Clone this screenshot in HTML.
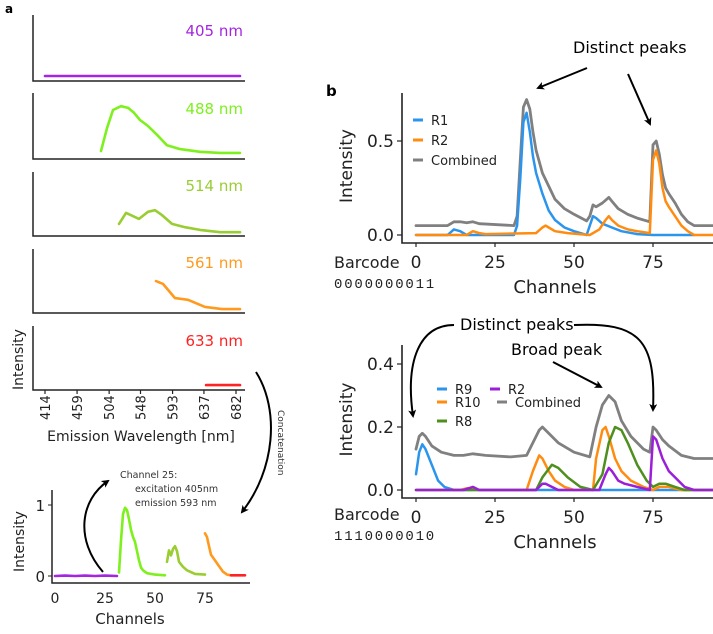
<!DOCTYPE html>
<html><head><meta charset="utf-8">
<style>
html,body{margin:0;padding:0;background:#fff;}
svg{display:block;font-family:"DejaVu Sans","Liberation Sans",sans-serif;}
</style></head>
<body>
<svg id="fig" width="713" height="634" viewBox="0 0 713 634">
<defs>
<marker id="ah" markerWidth="8" markerHeight="8" refX="6" refY="4" orient="auto" markerUnits="userSpaceOnUse">
<path d="M0,0 L8,4 L0,8 L2,4 z" fill="#000"/>
</marker>
</defs>
<g id="pa"></g>
<g id="pi"></g>
<g id="pb1"></g>
<g id="pb2"></g>
<g id="ann">
<text x="5" y="13" font-size="12" font-weight="bold">a</text>
<text x="326" y="96" font-size="15" font-weight="bold">b</text>
<text x="573" y="53" font-size="16">Distinct peaks</text>
<line x1="587" y1="68" x2="538" y2="88" stroke="#000" stroke-width="2" marker-end="url(#ah)"/>
<line x1="628" y1="74" x2="650" y2="124" stroke="#000" stroke-width="2" marker-end="url(#ah)"/>
<text x="460" y="330" font-size="16">Distinct peaks</text>
<path d="M454,325 C420,325 405,360 413,416" fill="none" stroke="#000" stroke-width="2" marker-end="url(#ah)"/>
<path d="M574,325 C640,322 656,340 653,410" fill="none" stroke="#000" stroke-width="2" marker-end="url(#ah)"/>
<text x="511" y="355" font-size="16">Broad peak</text>
<line x1="553" y1="362" x2="601" y2="387" stroke="#000" stroke-width="2" marker-end="url(#ah)"/>
<path d="M256,372 C280,410 275,470 242,512" fill="none" stroke="#000" stroke-width="2" marker-end="url(#ah)"/>
<text transform="translate(278,410) rotate(90)" font-size="9" fill="#333">Concatenation</text>
<text x="120" y="478" font-size="9.5" fill="#333">Channel 25:</text>
<text x="135" y="492" font-size="9.5" fill="#333">excitation 405nm</text>
<text x="135" y="506" font-size="9.5" fill="#333">emission 593 nm</text>
<path d="M103,572 C75,540 80,500 108,481" fill="none" stroke="#000" stroke-width="2" marker-end="url(#ah)"/>
</g>
</svg>
<script>
// ---------- Panel a data (wavelength nm, normalized intensity) ----------
const wlTicks = [414, 459, 504, 548, 593, 637, 682];
const lasers = ["405 nm", "488 nm", "514 nm", "561 nm", "633 nm"];
const wl405 = [414, 687.6];
const in405 = [0.09, 0.09];
const wl488 = [492.6, 501, 509.4, 520.6, 530.5, 538.9, 547.3, 558.5, 571.1, 585.2, 603.4, 631.5, 659.5, 687.6];
const in488 = [0.145, 0.56, 0.89, 0.96, 0.93, 0.84, 0.71, 0.6, 0.44, 0.25, 0.18, 0.13, 0.11, 0.11];
const wl514 = [517.8, 527.7, 545.9, 558.5, 568.3, 578.2, 592.2, 610.4, 631.5, 659.5, 687.6];
const in514 = [0.22, 0.42, 0.31, 0.44, 0.47, 0.38, 0.22, 0.16, 0.11, 0.07, 0.07];
const wl561 = [569.7, 579.6, 596.4, 614.6, 638.5, 662.4, 687.6];
const in561 = [0.58, 0.53, 0.27, 0.24, 0.11, 0.07, 0.07];
const wl633 = [640, 687.6];
const in633 = [0.09, 0.09];

// ---------- Inset data (channels) ----------
const insetTicks = [0, 25, 50, 75];
const chPurple = [0, 5, 10, 15, 20, 25, 31];
const vPurple = [0.0, 0.005, 0.0, 0.005, 0.0, 0.005, 0.0];
const chGreen = [32, 33, 34, 35, 36, 37, 38, 39, 40, 41, 42, 43, 44, 46, 50, 55];
const vGreen = [0.05, 0.5, 0.87, 0.96, 0.93, 0.8, 0.65, 0.55, 0.48, 0.35, 0.22, 0.12, 0.08, 0.04, 0.02, 0.01];
const chLGreen = [56, 57, 58, 59, 60, 61, 62, 64, 66, 70, 75];
const vLGreen = [0.2, 0.36, 0.29, 0.38, 0.42, 0.35, 0.2, 0.13, 0.08, 0.03, 0.02];
const chOrange = [75, 76, 77, 78, 79, 80, 82, 84, 86, 88];
const vOrange = [0.6, 0.55, 0.42, 0.3, 0.26, 0.22, 0.14, 0.06, 0.02, 0.01];
const chRed = [88, 95];
const vRed = [0.01, 0.01];

// ---------- Panel b top ----------
const bTicksX = [0, 25, 50, 75];
const bTopTicksY = [0.0, 0.5];
const chR1 = [0, 10, 12, 14, 16, 31, 32, 33, 34, 35, 36, 37, 38, 40, 42, 44, 47, 50, 54, 55, 56, 57, 59, 62, 65, 70, 75, 88];
const vR1 = [0, 0, 0.03, 0.02, 0, 0, 0.05, 0.3, 0.6, 0.65, 0.55, 0.42, 0.33, 0.22, 0.13, 0.08, 0.04, 0.02, 0, 0.05, 0.1, 0.09, 0.06, 0.04, 0.02, 0.005, 0, 0];
const chR2 = [0, 16, 18, 20, 22, 38, 40, 41, 42, 44, 48, 55, 58, 60, 61, 62, 64, 67, 70, 74, 75, 76, 77, 78, 79, 80, 82, 84, 86, 88, 95];
const vR2 = [0, 0, 0.02, 0.01, 0.005, 0.01, 0.04, 0.05, 0.04, 0.02, 0.01, 0, 0.03, 0.08, 0.1, 0.08, 0.05, 0.03, 0.02, 0.01, 0.4, 0.45, 0.38, 0.25, 0.18, 0.15, 0.1, 0.05, 0.02, 0, 0];
const chC1 = [0, 10, 12, 14, 16, 18, 20, 31, 32, 33, 34, 35, 36, 37, 38, 40, 42, 44, 47, 50, 54, 55, 56, 57, 59, 61, 62, 64, 67, 70, 74, 75, 76, 77, 78, 79, 80, 82, 84, 86, 88, 95];
const vC1 = [0.05, 0.05, 0.07, 0.07, 0.065, 0.07, 0.06, 0.05, 0.1, 0.4, 0.68, 0.72, 0.67, 0.55, 0.45, 0.33, 0.26, 0.19, 0.14, 0.11, 0.075, 0.1, 0.16, 0.15, 0.17, 0.2, 0.18, 0.14, 0.11, 0.09, 0.07, 0.48, 0.5, 0.43, 0.32, 0.25, 0.22, 0.17, 0.11, 0.07, 0.05, 0.05];

// ---------- Panel b bottom ----------
const bBotTicksY = [0.0, 0.2, 0.4];
const chC2 = [0, 1, 2, 3, 5, 8, 12, 15, 18, 22, 30, 35, 37, 39, 40, 42, 45, 50, 55, 57, 59, 61, 63, 65, 68, 72, 74, 75, 76, 78, 80, 84, 88, 95];
const vC2 = [0.13, 0.17, 0.18, 0.17, 0.14, 0.12, 0.11, 0.11, 0.115, 0.11, 0.105, 0.11, 0.15, 0.19, 0.2, 0.18, 0.15, 0.12, 0.105, 0.2, 0.27, 0.3, 0.28, 0.22, 0.17, 0.13, 0.12, 0.2, 0.19, 0.16, 0.14, 0.11, 0.1, 0.1];
const chR9 = [0, 1, 2, 3, 5, 7, 9, 12, 95];
const vR9 = [0.05, 0.12, 0.145, 0.13, 0.08, 0.03, 0.01, 0, 0];
const chR10 = [0, 14, 16, 18, 20, 35, 37, 39, 40, 42, 44, 47, 50, 56, 57, 59, 60, 61, 63, 65, 68, 72, 75, 77, 80, 84, 95];
const vR10 = [0, 0, 0.005, 0.005, 0, 0, 0.06, 0.11, 0.1, 0.06, 0.03, 0.01, 0, 0, 0.1, 0.19, 0.2, 0.17, 0.1, 0.06, 0.03, 0.01, 0, 0.01, 0.01, 0, 0];
const chR8 = [0, 38, 40, 43, 45, 48, 52, 56, 59, 61, 63, 65, 67, 70, 73, 75, 77, 79, 82, 85, 95];
const vR8 = [0, 0, 0.04, 0.08, 0.07, 0.04, 0.01, 0, 0.05, 0.15, 0.2, 0.19, 0.15, 0.08, 0.03, 0.01, 0.02, 0.02, 0.01, 0, 0];
const chR2b = [0, 15, 18, 20, 38, 40, 41, 43, 45, 58, 60, 61, 62, 64, 66, 70, 74, 75, 76, 78, 80, 82, 85, 88, 95];
const vR2b = [0, 0, 0.01, 0, 0, 0.02, 0.02, 0.01, 0, 0, 0.05, 0.07, 0.06, 0.03, 0.02, 0.01, 0, 0.17, 0.16, 0.1, 0.06, 0.04, 0.01, 0, 0];

const NS = "http://www.w3.org/2000/svg";
function mk(parent, tag, attrs, text) {
  const e = document.createElementNS(NS, tag);
  for (const k in attrs) e.setAttribute(k, attrs[k]);
  if (text !== undefined) e.textContent = text;
  parent.appendChild(e);
  return e;
}
function lineEl(parent, xs, ys, sx, sy, color, w, name) {
  const d = xs.map((x, i) => (i ? "L" : "M") + sx(x).toFixed(1) + "," + sy(ys[i]).toFixed(1)).join(" ");
  const p = mk(parent, "path", {d: d, fill: "none", stroke: color, "stroke-width": w, "stroke-linejoin": "round", "stroke-linecap": "round"});
  
  
  return p;
}

// ---------- Draw panel a ----------
const pa = document.getElementById("pa");
const wx = w => 45 + (w - 414) * 0.7127;
const bottoms = [81, 159, 236, 313, 390];
const tops = [15, 93, 172, 249, 326];
const laserColors = ["#a526e0", "#7ef01e", "#9acd32", "#ff9a1f", "#ff2222"];
const labelY = [36, 114, 191, 268, 346];
const wls = [wl405, wl488, wl514, wl561, wl633];
const ins = [in405, in488, in514, in561, in633];
for (let i = 0; i < 5; i++) {
  const b = bottoms[i];
  const ax = mk(pa, "path", {d: `M33,${tops[i]} L33,${b} L245,${b}`, fill: "none", stroke: "#222", "stroke-width": 1.5});
  
  
  const t = mk(pa, "text", {x: 243, y: labelY[i], "font-size": 15, fill: laserColors[i], "text-anchor": "end"}, lasers[i]);
  
  
  const sy = v => b - v * 55;
  lineEl(pa, wls[i], ins[i], wx, sy, laserColors[i], 2.6, 'spectrum-' + lasers[i].replace(' ', ''));
}
wlTicks.forEach(w => {
  const tk = mk(pa, "line", {x1: wx(w), y1: 390, x2: wx(w), y2: 394, stroke: "#222", "stroke-width": 1.2});
  
  
  const tl = mk(pa, "text", {transform: `translate(${wx(w) + 5},${420}) rotate(-90)`, "font-size": 13, fill: "#222"}, String(w));
  
  
});
{
  const t = mk(pa, "text", {x: 141, y: 441, "font-size": 14, "text-anchor": "middle", fill: "#222"}, "Emission Wavelength [nm]");
  
  
  const t2 = mk(pa, "text", {transform: "translate(23,390) rotate(-90)", "font-size": 14, fill: "#222"}, "Intensity");
  
  
}

// ---------- Draw inset ----------
const pi = document.getElementById("pi");
const ix = c => 55 + c * 2;
const iy = v => 576 - v * 71;
{
  const ax = mk(pi, "path", {d: "M52,490 L52,583 L250,583", fill: "none", stroke: "#222", "stroke-width": 1.5});
  
  
  [0, 1].forEach(v => {
    const tl = mk(pi, "text", {x: 45, y: iy(v) + 6, "font-size": 15, "text-anchor": "end", fill: "#222"}, String(v));
    
    
    const tk = mk(pi, "line", {x1: 48, y1: iy(v), x2: 52, y2: iy(v), stroke: "#222"});
    
    
  });
  insetTicks.forEach(c => {
    const tl = mk(pi, "text", {x: ix(c), y: 603, "font-size": 14, "text-anchor": "middle", fill: "#222"}, String(c));
    
    
  });
  const t = mk(pi, "text", {x: 130, y: 624, "font-size": 15, "text-anchor": "middle", fill: "#222"}, "Channels");
  
  
  const t2 = mk(pi, "text", {transform: "translate(24,572) rotate(-90)", "font-size": 14, fill: "#222"}, "Intensity");
  
  
  lineEl(pi, chPurple, vPurple, ix, iy, laserColors[0], 2.6, 'inset-405');
  lineEl(pi, chGreen, vGreen, ix, iy, laserColors[1], 2.6, 'inset-488');
  lineEl(pi, chLGreen, vLGreen, ix, iy, laserColors[2], 2.6, 'inset-514');
  lineEl(pi, chOrange, vOrange, ix, iy, laserColors[3], 2.6, 'inset-561');
  lineEl(pi, chRed, vRed, ix, iy, laserColors[4], 2.6, 'inset-633');
}

// ---------- Panel b axes helper ----------
const bx = c => 416 + c * 3.16;
function bAxes(g, top, axisY, y0, pxPerUnit, ticksY, prefix, barcode, barY, codeY, chY) {
  const sy = v => y0 - v * pxPerUnit;
  const ax = mk(g, "path", {d: `M402,${top} L402,${axisY} L713,${axisY}`, fill: "none", stroke: "#222", "stroke-width": 1.6});
  
  
  ticksY.forEach(v => {
    const tk = mk(g, "line", {x1: 397, y1: sy(v), x2: 402, y2: sy(v), stroke: "#222", "stroke-width": 1.2});
    
    
    const tl = mk(g, "text", {x: 394, y: sy(v) + 6, "font-size": 17, "text-anchor": "end", fill: "#222"}, v.toFixed(1));
    
    
  });
  bTicksX.forEach(c => {
    const tk = mk(g, "line", {x1: bx(c), y1: axisY, x2: bx(c), y2: axisY + 4, stroke: "#222", "stroke-width": 1.2});
    
    
    const tl = mk(g, "text", {x: bx(c), y: axisY + 25, "font-size": 17, "text-anchor": "middle", fill: "#222"}, String(c));
    
    
  });
  const t = mk(g, "text", {x: 555, y: chY, "font-size": 18, "text-anchor": "middle", fill: "#222"}, "Channels");
  
  
  const t2 = mk(g, "text", {transform: `translate(352,${(top + axisY) / 2 + 35}) rotate(-90)`, "font-size": 17, fill: "#222"}, "Intensity");
  
  
  const b1 = mk(g, "text", {x: 334, y: barY, "font-size": 16, fill: "#222"}, "Barcode");
  
  
  const b2 = mk(g, "text", {x: 334, y: codeY, "font-size": 14, fill: "#222", "font-family": "Liberation Mono, monospace", "letter-spacing": "1.8"}, barcode);
  
  
  return sy;
}
function legendEntry(g, x, y, color, label, name) {
  const l = mk(g, "line", {x1: x, y1: y, x2: x + 10, y2: y, stroke: color, "stroke-width": 3});
  
  
  const t = mk(g, "text", {x: x + 18, y: y + 5, "font-size": 13, fill: "#222"}, label);
  
  
}

// ---------- Panel b top ----------
const pb1 = document.getElementById("pb1");
const sy1 = bAxes(pb1, 93, 243, 235, 188, bTopTicksY, 'b-top', "0000000011", 268, 288, 293);
lineEl(pb1, chC1, vC1, bx, sy1, "#808080", 2.8, 'combined-line-top');
lineEl(pb1, chR1, vR1, bx, sy1, "#2b95ee", 2.5, 'r1-line');
lineEl(pb1, chR2, vR2, bx, sy1, "#ff8c10", 2.5, 'r2-line-top');
legendEntry(pb1, 413, 120, "#2b95ee", "R1", 'legend-r1');
legendEntry(pb1, 413, 140, "#ff8c10", "R2", 'legend-r2');
legendEntry(pb1, 413, 160, "#808080", "Combined", 'legend-combined-top');

// ---------- Panel b bottom ----------
const pb2 = document.getElementById("pb2");
const sy2 = bAxes(pb2, 345, 498, 490, 315, bBotTicksY, 'b-bot', "1110000010", 520, 540, 548);
lineEl(pb2, chC2, vC2, bx, sy2, "#808080", 2.8, 'combined-line-bottom');
lineEl(pb2, chR9, vR9, bx, sy2, "#2b95ee", 2.5, 'r9-line');
lineEl(pb2, chR10, vR10, bx, sy2, "#ff8c10", 2.5, 'r10-line');
lineEl(pb2, chR8, vR8, bx, sy2, "#4e8f1e", 2.5, 'r8-line');
lineEl(pb2, chR2b, vR2b, bx, sy2, "#9b1ed8", 2.5, 'r2-line-bottom');
legendEntry(pb2, 437, 389, "#2b95ee", "R9", 'legend-r9');
legendEntry(pb2, 490, 389, "#9b1ed8", "R2", 'legend-r2-bottom');
legendEntry(pb2, 437, 402, "#ff8c10", "R10", 'legend-r10');
legendEntry(pb2, 497, 402, "#808080", "Combined", 'legend-combined-bottom');
legendEntry(pb2, 437, 421, "#4e8f1e", "R8", 'legend-r8');
</script>
</body></html>
